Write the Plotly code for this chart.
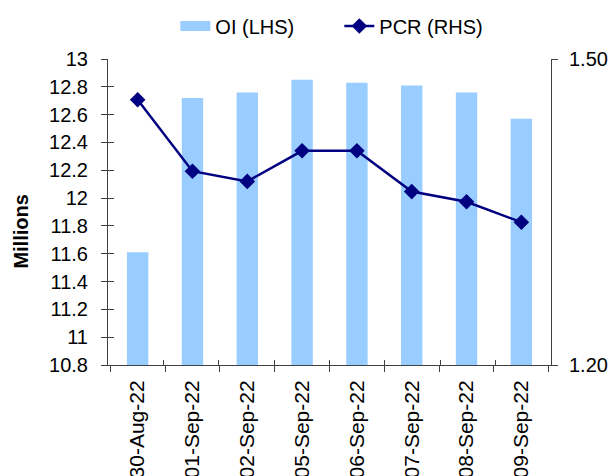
import plotly.graph_objects as go

dates = ["30-Aug-22", "01-Sep-22", "02-Sep-22", "05-Sep-22", "06-Sep-22", "07-Sep-22", "08-Sep-22", "09-Sep-22"]
oi_millions = [11.61, 12.72, 12.76, 12.85, 12.83, 12.81, 12.76, 12.57]
pcr = [1.46, 1.39, 1.38, 1.41, 1.41, 1.37, 1.36, 1.34]

left_ticks = [10.8, 11.0, 11.2, 11.4, 11.6, 11.8, 12.0, 12.2, 12.4, 12.6, 12.8, 13.0]
left_labels = ["10.8", "11", "11.2", "11.4", "11.6", "11.8", "12", "12.2", "12.4", "12.6", "12.8", "13"]
right_ticks = [1.20, 1.50]
right_labels = ["1.20", "1.50"]

FONT = "Liberation Sans, Arial, sans-serif"
AX = "#404040"
BAR = "#99CCFF"
LINE = "#000080"
W, H = 612, 476

boundaries = [i - 0.5 for i in range(len(dates) + 1)]

fig = go.Figure()
fig.add_trace(go.Bar(
    x=dates, y=oi_millions, name="OI (LHS)", showlegend=False, legendgroup="oi",
    marker=dict(color=BAR, line=dict(width=0)),
    yaxis="y",
))
# legend swatch for the bars (wide flat rectangle as in the reference)
fig.add_trace(go.Scatter(
    x=[None], y=[None], name="OI (LHS)", mode="lines", legendgroup="oi",
    line=dict(color=BAR, width=11), hoverinfo="skip",
))
fig.add_trace(go.Scatter(
    x=dates, y=pcr, name="PCR (RHS)", mode="lines+markers",
    line=dict(color=LINE, width=2.5),
    marker=dict(symbol="diamond", size=12, color=LINE),
    yaxis="y2",
))

common = dict(showgrid=False, zeroline=False, automargin=False, linecolor=AX, linewidth=1, tickcolor=AX)

fig.update_layout(
    width=W, height=H,
    margin=dict(l=108, r=61, t=59, b=111, autoexpand=False),
    paper_bgcolor="white", plot_bgcolor="white",
    font=dict(family=FONT, size=20, color="black"),
    bargap=0.61,
    showlegend=True,
    legend=dict(orientation="h", x=0.152, xanchor="left", y=1 - 26 / H, yanchor="middle",
                yref="container", font=dict(size=20), traceorder="normal",
                entrywidth=119, entrywidthmode="pixels",
                itemwidth=30, bgcolor="rgba(0,0,0,0)"),
    xaxis=dict(
        type="category", tickangle=-90, showline=True,
        ticks="outside", ticklen=6, tickson="boundaries", ticklabelstandoff=6,
        tickfont=dict(size=21), **common,
    ),
    xaxis2=dict(
        overlaying="x", range=[-0.5, len(dates) - 0.5], tickvals=boundaries,
        ticks="inside", ticklen=5, showticklabels=False, showline=False, side="bottom", **common,
    ),
    yaxis=dict(
        range=[10.8, 13.0], tickvals=left_ticks, ticktext=left_labels,
        showline=True, ticks="outside", ticklen=6, ticklabelstandoff=9, **common,
    ),
    yaxis2=dict(
        range=[1.20, 1.50], tickvals=right_ticks, ticktext=right_labels,
        overlaying="y", side="right", showline=True,
        ticks="outside", ticklen=6, ticklabelstandoff=7, **common,
    ),
    yaxis3=dict(
        range=[10.8, 13.0], tickvals=left_ticks, overlaying="y", side="left",
        ticks="inside", ticklen=6, showticklabels=False, showline=False, **common,
    ),
    yaxis4=dict(
        range=[1.20, 1.50], tickvals=right_ticks, overlaying="y", side="right",
        ticks="inside", ticklen=6, showticklabels=False, showline=False, **common,
    ),
    annotations=[dict(
        text="<b>Millions</b>", xref="paper", yref="paper",
        x=-0.197, y=0.435, xanchor="center", yanchor="middle",
        textangle=-90, showarrow=False, font=dict(size=20, color="black"),
    )],
)
# invisible helper traces so the overlay tick axes are drawn
fig.add_trace(go.Scatter(x=[None], y=[None], xaxis="x2", yaxis="y3", showlegend=False, hoverinfo="skip"))
fig.add_trace(go.Scatter(x=[None], y=[None], xaxis="x2", yaxis="y4", showlegend=False, hoverinfo="skip"))

fig.write_html(
    "out.html",
    config={"displayModeBar": False},
    post_script="document.body.style.margin='0';document.body.style.overflow='hidden';",
)
